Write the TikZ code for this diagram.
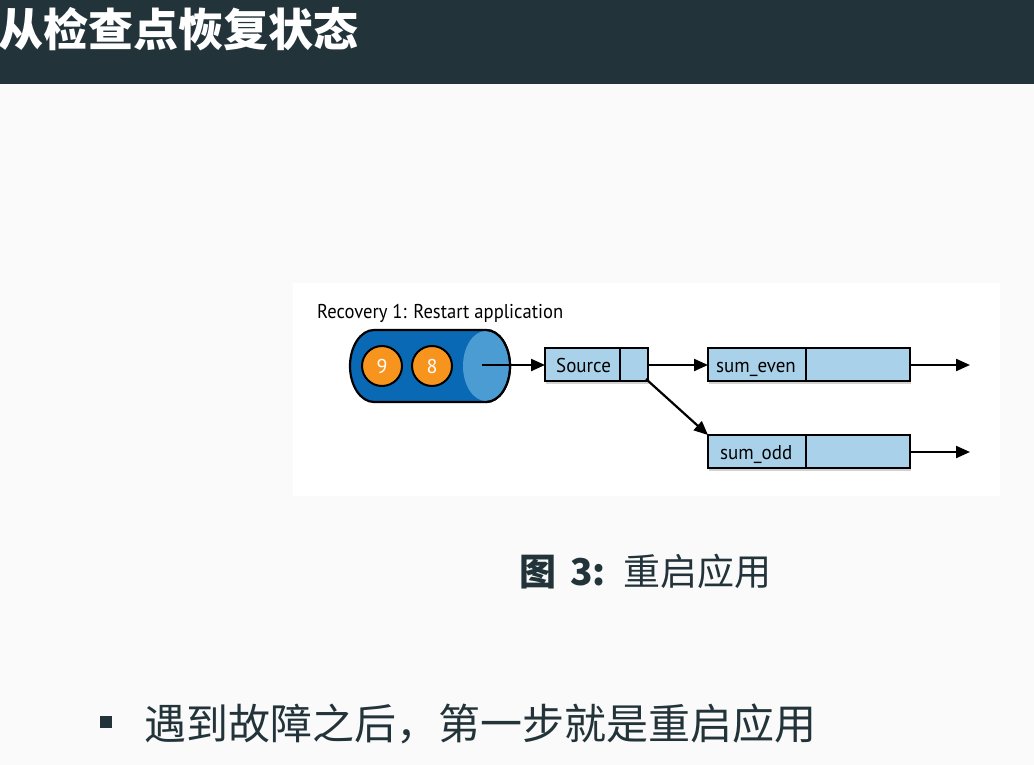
\documentclass[tikz,border=0pt]{standalone}
\usepackage{fontspec}
\setmainfont{Noto Sans CJK SC}
\newfontfamily\cjk{Noto Sans CJK SC}
\newfontfamily\cond{PT Sans}
\usetikzlibrary{shadows,arrows.meta}
\definecolor{bar}{HTML}{22343A}
\definecolor{bg}{HTML}{FAFAFA}
\definecolor{boxblue}{HTML}{A9D2EA}
\definecolor{cyldark}{HTML}{0A69B4}
\definecolor{cyllight}{HTML}{4B9CD2}
\definecolor{orng}{HTML}{F7941D}
\tikzset{
  cell/.style={draw=black, line width=2.4pt, fill=boxblue, drop shadow={opacity=0.35, shadow xshift=1pt, shadow yshift=-3pt}},
  link/.style={line width=2.2pt, -{Triangle[length=14pt,width=12pt]}},
  lbl/.style={font=\cond\fontsize{20}{24}\selectfont, inner sep=0pt, anchor=base west},
  ball/.style={circle, draw=black, line width=2pt, fill=orng, minimum size=40pt, inner sep=0pt, text=white, font=\cond\fontsize{20}{24}\selectfont}
}
\begin{document}
\begin{tikzpicture}[x=1pt,y=-1pt]
\useasboundingbox (0,0) rectangle (1034,765);
\fill[bg] (0,0) rectangle (1034,765);
\fill[bar] (0,0) rectangle (1034,84);
\node[anchor=west, text=white, font=\cjk\bfseries\fontsize{45}{50}\selectfont, inner sep=0pt] (title) at (-2,29) {从检查点恢复状态};
% figure panel
\fill[white] (293,283) rectangle (1000,496);
\node[anchor=west, inner sep=0pt, font=\cond\fontsize{20}{24}\selectfont] (rec) at (317,313) {\scalebox{0.93}[1]{Recovery 1: Restart application}};
% cylinder
\draw[fill=cyldark, line width=2.2pt] (374,330) -- (486,330) arc[start angle=90, end angle=-90, x radius=24pt, y radius=36pt] -- (374,402) arc[start angle=270, end angle=90, x radius=24pt, y radius=36pt] -- cycle;
\fill[cyllight] (486,366) ellipse[x radius=23pt, y radius=35pt];
\draw[line width=2.2pt] (486,330) arc[start angle=90, end angle=-90, x radius=24pt, y radius=36pt];
\node[ball] (n9) at (382,366) {9};
\node[ball] (n8) at (432,366) {8};
\coordinate (cylout) at (482,365);
% boxes
\draw[cell] (545,348) rectangle (648,381);
\draw[line width=2.2pt] (620,348) -- (620,381);
\node[lbl] (src) at (556,372) {\scalebox{0.95}[1]{Source}};
\coordinate (srcL) at (545,365);
\coordinate (srcR) at (648,365);
\coordinate (srcD) at (646,379);
\draw[cell] (708,348) rectangle (910,381);
\draw[line width=2.2pt] (806,348) -- (806,381);
\node[lbl] (even) at (716,372) {\scalebox{0.95}[1]{sum\_even}};
\coordinate (evenL) at (708,365);
\coordinate (evenR) at (910,365);
\coordinate (evenOut) at (970,365);
\draw[cell] (708,435) rectangle (910,468);
\draw[line width=2.2pt] (806,435) -- (806,468);
\node[lbl] (odd) at (720,459) {\scalebox{0.95}[1]{sum\_odd}};
\coordinate (oddT) at (708,435);
\coordinate (oddR) at (910,452);
\coordinate (oddOut) at (970,452);
\draw[link] (cylout) -- (srcL);
\draw[link] (srcR) -- (evenL);
\draw[link] (srcD) -- (oddT);
\draw[link] (evenR) -- (evenOut);
\draw[link] (oddR) -- (oddOut);
% caption
\node[anchor=west, text=bar, inner sep=0pt, font=\cjk\fontsize{37}{42}\selectfont] (cap) at (519,572) {\textbf{图\hspace{14pt}3:}\hspace{18pt}重启应用};
% bullet
\fill[bar] (100,716) rectangle (112,728) coordinate (bul);
\node[anchor=west, text=bar, inner sep=0pt, font=\cjk\fontsize{42}{46}\selectfont] (item) at (144,724) {遇到故障之后，第一步就是重启应用};
\end{tikzpicture}
\end{document}
